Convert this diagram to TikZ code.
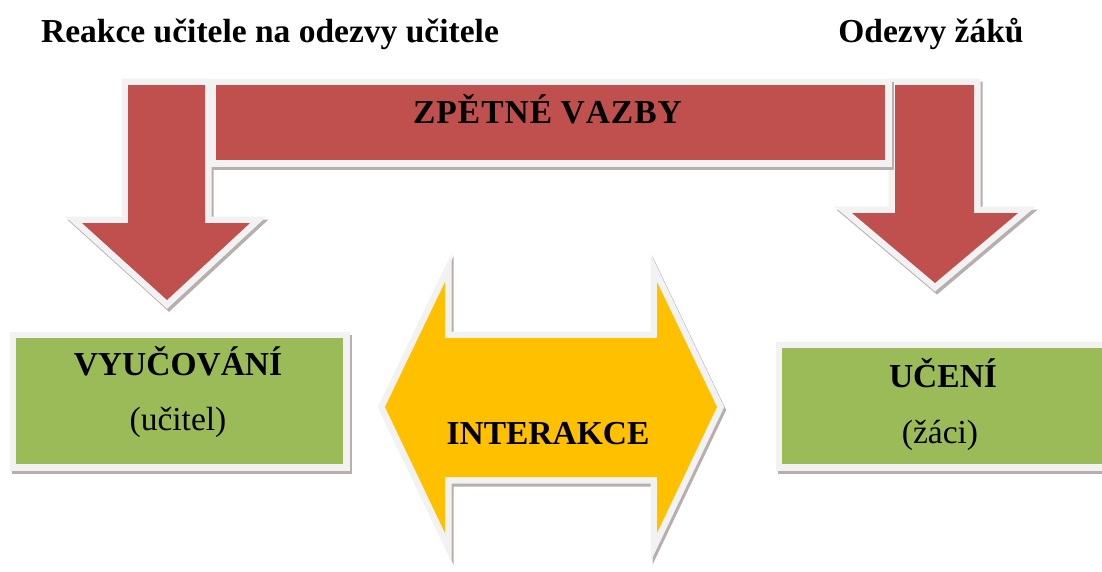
\documentclass[tikz,border=0pt]{standalone}
\usepackage{fontspec}
\setmainfont{Liberation Serif}
\definecolor{zvred}{HTML}{C0504D}
\definecolor{zvgreen}{HTML}{9BBB59}
\definecolor{zvyellow}{HTML}{FFC000}
\definecolor{zvedge}{HTML}{F2F2F2}
\definecolor{zvshadow}{HTML}{B8AEAE}
\tikzset{
  shape3d/.style={line join=miter,
    preaction={draw=zvshadow,fill=zvshadow,line width=13pt,transform canvas={shift={(2pt,-3pt)}}},
    preaction={draw=zvedge,line width=13pt}},
  greenbox/.style={shape3d,rectangle,fill=zvgreen,inner sep=0pt},
  bigtext/.style={font=\fontsize{33.5}{40}\selectfont\bfseries,anchor=base,inner sep=0pt},
  smalltext/.style={font=\fontsize{33.5}{40}\selectfont,anchor=base,inner sep=0pt}
}
\begin{document}
\begin{tikzpicture}[x=1pt,y=-1pt]
\useasboundingbox (0,0) rectangle (1102,571);
% red arrows (feedback)
\path[shape3d,fill=zvred] (128,85) -- (205,85) -- (205,223) -- (250,223) -- (167,300) -- (82,223) -- (128,223) -- cycle;
\path[shape3d,fill=zvred] (895,85) -- (974,85) -- (974,213) -- (1018,213) -- (935,283) -- (852,213) -- (895,213) -- cycle;
\path[shape3d,fill=zvred] (216,85) rectangle (885,160);
% interaction
\path[shape3d,fill=zvyellow] (385,407) -- (445,282) -- (445,338) -- (657,338) -- (657,282) -- (717,407)
  -- (657,533) -- (657,477) -- (445,477) -- (445,533) -- cycle;
% boxes
\node[greenbox,minimum width=327,minimum height=126] (vyuc) at (179.5,401) {};
\node[greenbox,minimum width=333,minimum height=116] (uceni) at (948.5,406) {};
% texts
\node[bigtext] (reakce) at (270,42) {Reakce učitele na odezvy učitele};
\node[bigtext] (odezvy) at (931,42) {Odezvy žáků};
\node[bigtext] (zpet) at (547.5,123) {Z\kern1pt P\kern1pt Ě\kern1pt T\kern1pt N\kern1pt É V\kern1pt A\kern1pt Z\kern1pt B\kern1pt Y};
\node[bigtext] (inter) at (548,444) {INTERAKCE};
\node[bigtext] (vyuctxt) at (178,375) {VYUČOVÁNÍ};
\node[smalltext] (ucitel) at (178,430) {(učitel)};
\node[bigtext] (ucenitxt) at (943,387) {UČENÍ};
\node[smalltext] (zaci) at (940,443) {(žáci)};
\end{tikzpicture}
\end{document}
